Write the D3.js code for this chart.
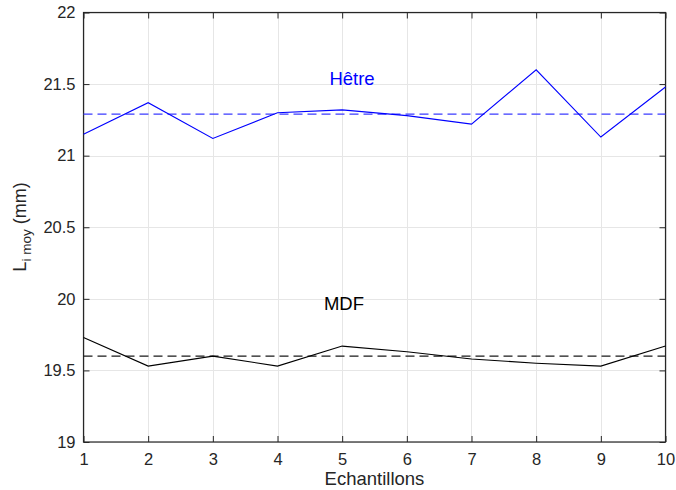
<!DOCTYPE html>
<html>
<head>
<meta charset="utf-8">
<script src="https://cdn.jsdelivr.net/npm/d3@7"></script>
<style>
  body { margin: 0; background: #fff; }
  text { font-family: "Liberation Sans", Arial, Helvetica, sans-serif; }
</style>
</head>
<body>
<svg id="chart" width="676" height="490"></svg>
<script>
const samples = [1, 2, 3, 4, 5, 6, 7, 8, 9, 10];
const hetre = [21.15, 21.37, 21.12, 21.30, 21.32, 21.28, 21.22, 21.60, 21.13, 21.48];
const mdf = [19.73, 19.53, 19.60, 19.53, 19.67, 19.63, 19.58, 19.55, 19.53, 19.67];
const hetreMean = 21.29;
const mdfMean = 19.60;
const xTicks = [1, 2, 3, 4, 5, 6, 7, 8, 9, 10];
const yTicks = [19, 19.5, 20, 20.5, 21, 21.5, 22];

const svg = d3.select("#chart");
const L = 83.5, R = 665.5, T = 12.5, B = 442;

const x = d3.scaleLinear().domain([1, 10]).range([L, R]);
const y = d3.scaleLinear().domain([19, 22]).range([B, T]);

// grid
const grid = svg.append("g").attr("stroke", "#e6e6e6").attr("stroke-width", 1);
grid.selectAll("line.gx").data(xTicks).join("line")
  .attr("x1", d => Math.round(x(d)) + 0.5).attr("x2", d => Math.round(x(d)) + 0.5)
  .attr("y1", T).attr("y2", B);
grid.selectAll("line.gy").data(yTicks).join("line")
  .attr("y1", d => Math.round(y(d)) + 0.5).attr("y2", d => Math.round(y(d)) + 0.5)
  .attr("x1", L).attr("x2", R);

// axes
const fmt = d => d3.format("")(d);
const tickStyle = g => {
  g.select(".domain").remove();
  g.selectAll(".tick line").attr("stroke", "#262626");
  g.selectAll(".tick text").attr("fill", "#262626").style("font-size", "16.5px")
    .style("font-family", '"Liberation Sans", Arial, sans-serif');
};
svg.append("g").attr("transform", `translate(0,${B})`)
  .call(d3.axisBottom(x).tickValues(xTicks).tickFormat(fmt).tickSizeInner(-6).tickPadding(11))
  .call(tickStyle);
svg.append("g").attr("transform", `translate(0,${T})`)
  .call(d3.axisTop(x).tickValues(xTicks).tickFormat("").tickSizeInner(-6))
  .call(tickStyle);
svg.append("g").attr("transform", `translate(${L},0)`)
  .call(d3.axisLeft(y).tickValues(yTicks).tickFormat(fmt).tickSizeInner(-6).tickPadding(8))
  .call(tickStyle);
svg.append("g").attr("transform", `translate(${R},0)`)
  .call(d3.axisRight(y).tickValues(yTicks).tickFormat("").tickSizeInner(-6))
  .call(tickStyle);

// box
svg.append("rect").attr("x", L).attr("y", T).attr("width", R - L).attr("height", B - T)
  .attr("fill", "none").attr("stroke", "#262626").attr("stroke-width", 1.2);

// mean lines
svg.append("line").attr("x1", x(1)).attr("x2", x(10))
  .attr("y1", y(hetreMean)).attr("y2", y(hetreMean))
  .attr("stroke", "#3b3bff").attr("stroke-width", 1.4).attr("stroke-dasharray", "9,5");
svg.append("line").attr("x1", x(1)).attr("x2", x(10))
  .attr("y1", y(mdfMean)).attr("y2", y(mdfMean))
  .attr("stroke", "#1a1a1a").attr("stroke-width", 1.2).attr("stroke-dasharray", "9,5");

// series
const line = d3.line().x((d, i) => x(samples[i])).y(d => y(d));
svg.append("path").datum(hetre).attr("d", line)
  .attr("fill", "none").attr("stroke", "#0000ff").attr("stroke-width", 1.1);
svg.append("path").datum(mdf).attr("d", line)
  .attr("fill", "none").attr("stroke", "#000").attr("stroke-width", 1.1);

// annotations
svg.append("text").attr("x", 352).attr("y", 85).attr("text-anchor", "middle")
  .attr("fill", "#0000ff").style("font-size", "18.5px").text("Hêtre");
svg.append("text").attr("x", 344).attr("y", 310).attr("text-anchor", "middle")
  .attr("fill", "#000").style("font-size", "18.5px").text("MDF");

// axis labels
svg.append("text").attr("x", 374.5).attr("y", 485).attr("text-anchor", "middle")
  .attr("fill", "#262626").style("font-size", "18.5px").text("Echantillons");

const yl = svg.append("text").attr("transform", "translate(26,227) rotate(-90)")
  .attr("text-anchor", "middle").attr("fill", "#262626").style("font-size", "18px");
yl.append("tspan").text("L");
yl.append("tspan").attr("dy", 5).style("font-size", "13.5px").text("i moy");
yl.append("tspan").attr("dy", -5).text(" (mm)");
</script>
</body>
</html>
